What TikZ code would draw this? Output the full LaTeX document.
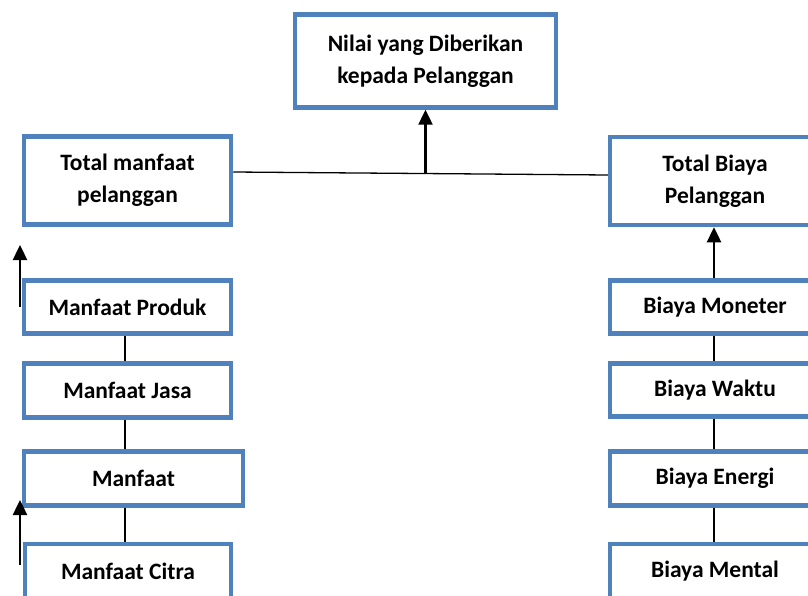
\documentclass[tikz,border=0pt]{standalone}
\usepackage{fontspec}
\setmainfont{Carlito}
\usetikzlibrary{arrows.meta}
\definecolor{boxblue}{HTML}{4F81BD}
\tikzset{
  box/.style={draw=boxblue, line width=4.5pt, fill=white, inner sep=0pt, align=center,
    font=\fontsize{23.5}{32}\selectfont\bfseries},
  link/.style={line width=1.3pt, black},
  uparrow/.style={line width=2.4pt, black, -{Triangle[width=14pt,length=15pt]}}
}
\begin{document}
\begin{tikzpicture}[x=1pt, y=-1pt]
\useasboundingbox (0,0) rectangle (808,596);
\clip (0,0) rectangle (808,596);
\fill[white] (0,0) rectangle (808,596);
% top
\node[box, minimum width=261pt, minimum height=93pt] (top) at (425.5,61) {Nilai yang Diberikan\\kepada Pelanggan};
% second row
\node[box, minimum width=207pt, minimum height=88pt] (tm) at (127.5,180.5) {Total manfaat\\pelanggan};
\node[box, minimum width=210pt, minimum height=88pt] (tb) at (715,181) {Total Biaya\\Pelanggan};
% left column
\node[box, minimum width=207pt, minimum height=53pt] (mp) at (127.5,307) {Manfaat Produk};
\node[box, minimum width=207pt, minimum height=54pt] (mj) at (127.5,390.5) {Manfaat Jasa};
\node[box, minimum width=219pt, minimum height=54pt] (mf) at (133.5,478.5) {Manfaat};
\node[box, minimum width=206pt, minimum height=54pt] (mc) at (128,571) {Manfaat Citra};
% right column
\node[box, minimum width=210pt, minimum height=53pt] (bm) at (715,307) {Biaya Moneter};
\node[box, minimum width=210pt, minimum height=53pt] (bw) at (715,390) {Biaya Waktu};
\node[box, minimum width=210pt, minimum height=54pt] (be) at (715,478.5) {Biaya Energi};
\node[box, minimum width=210pt, minimum height=54pt] (bt) at (715,571) {Biaya Mental};
% connectors between column boxes
\draw[link] (mp.south -| 125,0) -- (mj.north -| 125,0);
\draw[link] (mj.south -| 125,0) -- (mf.north -| 125,0);
\draw[link] (mf.south -| 125,0) -- (mc.north -| 125,0);
\draw[link] (bm.south -| 714,0) -- (bw.north -| 714,0);
\draw[link] (bw.south -| 714,0) -- (be.north -| 714,0);
\draw[link] (be.south -| 714,0) -- (bt.north -| 714,0);
% horizontal line and arrow to top
\draw[link] ([yshift=8.5pt]tm.east) -- coordinate[pos=0.5] (j) ([yshift=6pt]tb.west);
\draw[uparrow] (j -| top.south) -- (top.south);
% right arrow
\draw[uparrow] (bm.north -| 714,0) -- (tb.south -| 714,0);
% left free arrows
\coordinate (a1s) at (20,307);
\coordinate (a1e) at (20,245);
\coordinate (a2s) at (20,565);
\coordinate (a2e) at (20,500);
\draw[uparrow] (a1s) -- (a1e);
\draw[uparrow] (a2s) -- (a2e);
\end{tikzpicture}
\end{document}
